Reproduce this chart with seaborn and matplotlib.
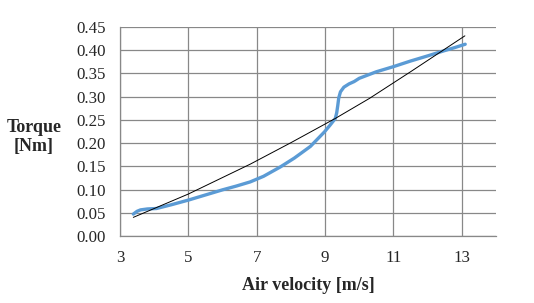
import numpy as np
import pandas as pd
import seaborn as sns
import matplotlib
matplotlib.use("Agg")
import matplotlib.pyplot as plt

velocity = [3.39, 3.5, 3.6, 3.8, 4.07, 4.5, 5.0, 5.5, 6.0, 6.4, 6.81, 7.2, 7.69, 8.1,
            8.57, 8.98, 9.15, 9.3, 9.34, 9.37, 9.40, 9.45, 9.55, 9.7, 9.85, 10.0,
            10.5, 11.0, 11.5, 12.0, 12.48, 12.8, 13.1]
torque = [0.048, 0.054, 0.057, 0.059, 0.060, 0.068, 0.078, 0.089, 0.100, 0.108,
          0.117, 0.129, 0.149, 0.168, 0.193, 0.224, 0.239, 0.253, 0.265, 0.280,
          0.297, 0.310, 0.320, 0.327, 0.332, 0.339, 0.353, 0.364, 0.376, 0.387,
          0.398, 0.405, 0.412]

# trendline (slightly curved, read at a few points)
trend_x = [3.39, 5.0, 6.81, 8.0, 9.30, 10.3, 11.5, 13.09]
trend_y = [0.041, 0.091, 0.155, 0.201, 0.253, 0.296, 0.353, 0.430]

xticks = [3, 5, 7, 9, 11, 13]
yticks = [0.00, 0.05, 0.10, 0.15, 0.20, 0.25, 0.30, 0.35, 0.40, 0.45]

sns.set_style("white")
plt.rcParams['font.family'] = ['Liberation Serif', 'DejaVu Serif']

df = pd.DataFrame({"v": velocity, "t": torque})
tr = pd.DataFrame({"v": trend_x, "t": trend_y})

fig = plt.figure(figsize=(5.34, 3.03), dpi=100)
ax = fig.add_axes([0.2247, 0.2195, 0.9288 - 0.2247, 0.9125 - 0.2195])

sns.lineplot(data=df, x="v", y="t", ax=ax, color="#5B9BD5", linewidth=2.4,
             sort=False, zorder=3)
sns.lineplot(data=tr, x="v", y="t", ax=ax, color="black", linewidth=0.7,
             zorder=4)

ax.set_xlim(3, 14)
ax.set_ylim(0, 0.45)
ax.set_xticks(xticks)
ax.set_yticks(yticks)
ax.set_xticklabels([str(v) for v in xticks])
ax.set_yticklabels([f"{v:.2f}" for v in yticks])
ax.grid(True, color="#888888", linewidth=0.9)
ax.set_axisbelow(True)
ax.tick_params(length=0, labelsize=12.2, pad=10)
for s in ["top", "right"]:
    ax.spines[s].set_visible(False)
for s in ["left", "bottom"]:
    ax.spines[s].set_color("#888888")
    ax.spines[s].set_linewidth(0.9)

ax.set_xlabel("Air velocity [m/s]", fontsize=13, fontweight="bold", labelpad=8)
ax.set_ylabel("")
fig.text(34 / 534, 1 - 137 / 303, "Torque\n[Nm]", fontsize=13, fontweight="bold",
         ha="center", va="center", linespacing=1.1)

fig.savefig("out.png", dpi=100)
